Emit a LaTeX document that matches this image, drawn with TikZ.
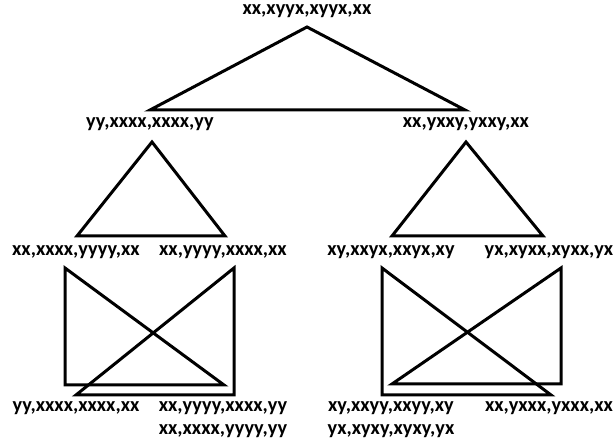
\documentclass[tikz,border=0pt]{standalone}
\usepackage{fontspec}
\setmainfont{Carlito}
\begin{document}
\begin{tikzpicture}[x=0.75pt,y=-0.75pt,
  lbl/.style={font=\fontsize{15.2}{17}\selectfont\bfseries, inner sep=0pt, text height=0.47em, text depth=0.22em},
  edge/.style={line width=2.25pt, line join=miter}]
\useasboundingbox (0,0) rectangle (615,448);
% labels
\node[lbl] (t) at (307,12.5) {xx,xyyx,xyyx,xx};
\node[lbl] (l1) at (150,126) {yy,xxxx,xxxx,yy};
\node[lbl] (r1) at (466,126) {xx,yxxy,yxxy,xx};
\node[lbl] (ll2) at (76,254) {xx,xxxx,yyyy,xx};
\node[lbl] (lr2) at (223,254) {xx,yyyy,xxxx,xx};
\node[lbl] (rl2) at (391,254) {xy,xxyx,xxyx,xy};
\node[lbl] (rr2) at (549,254) {yx,xyxx,xyxx,yx};
\node[lbl] (b1) at (76,410) {yy,xxxx,xxxx,xx};
\node[lbl] (b2) at (223,410) {xx,yyyy,xxxx,yy};
\node[lbl] (b3) at (223,432.5) {xx,xxxx,yyyy,yy};
\node[lbl] (b4) at (391,410) {xy,xxyy,xxyy,xy};
\node[lbl] (b5) at (549,410) {xx,yxxx,yxxx,xx};
\node[lbl] (b6) at (391,432.5) {yx,xyxy,xyxy,yx};
% vertices
\coordinate (ta) at (307,27);  \coordinate (tl) at (150,110); \coordinate (tr) at (465,110);
\coordinate (la) at (152,142); \coordinate (ll) at (77,236);  \coordinate (lr) at (225,236);
\coordinate (ra) at (466,142); \coordinate (rl) at (392,236); \coordinate (rr) at (543,236);
\coordinate (a1) at (65,268);  \coordinate (a2) at (65,385);  \coordinate (a3) at (224,385);
\coordinate (b1v) at (234,268); \coordinate (b2v) at (234,395); \coordinate (b3v) at (76,395);
\coordinate (c1) at (382,268); \coordinate (c2) at (382,395); \coordinate (c3) at (551,395);
\coordinate (d1) at (561,268); \coordinate (d2) at (561,384); \coordinate (d3) at (392,384);
% shapes
\draw[edge] (ta) -- (tl) -- (tr) -- cycle;
\draw[edge] (la) -- (ll) -- (lr) -- cycle;
\draw[edge] (ra) -- (rl) -- (rr) -- cycle;
\draw[edge] (a1) -- (a2) -- (a3) -- cycle;
\draw[edge] (b1v) -- (b2v) -- (b3v) -- cycle;
\draw[edge] (c1) -- (c2) -- (c3) -- cycle;
\draw[edge] (d1) -- (d2) -- (d3) -- cycle;
\end{tikzpicture}
\end{document}
